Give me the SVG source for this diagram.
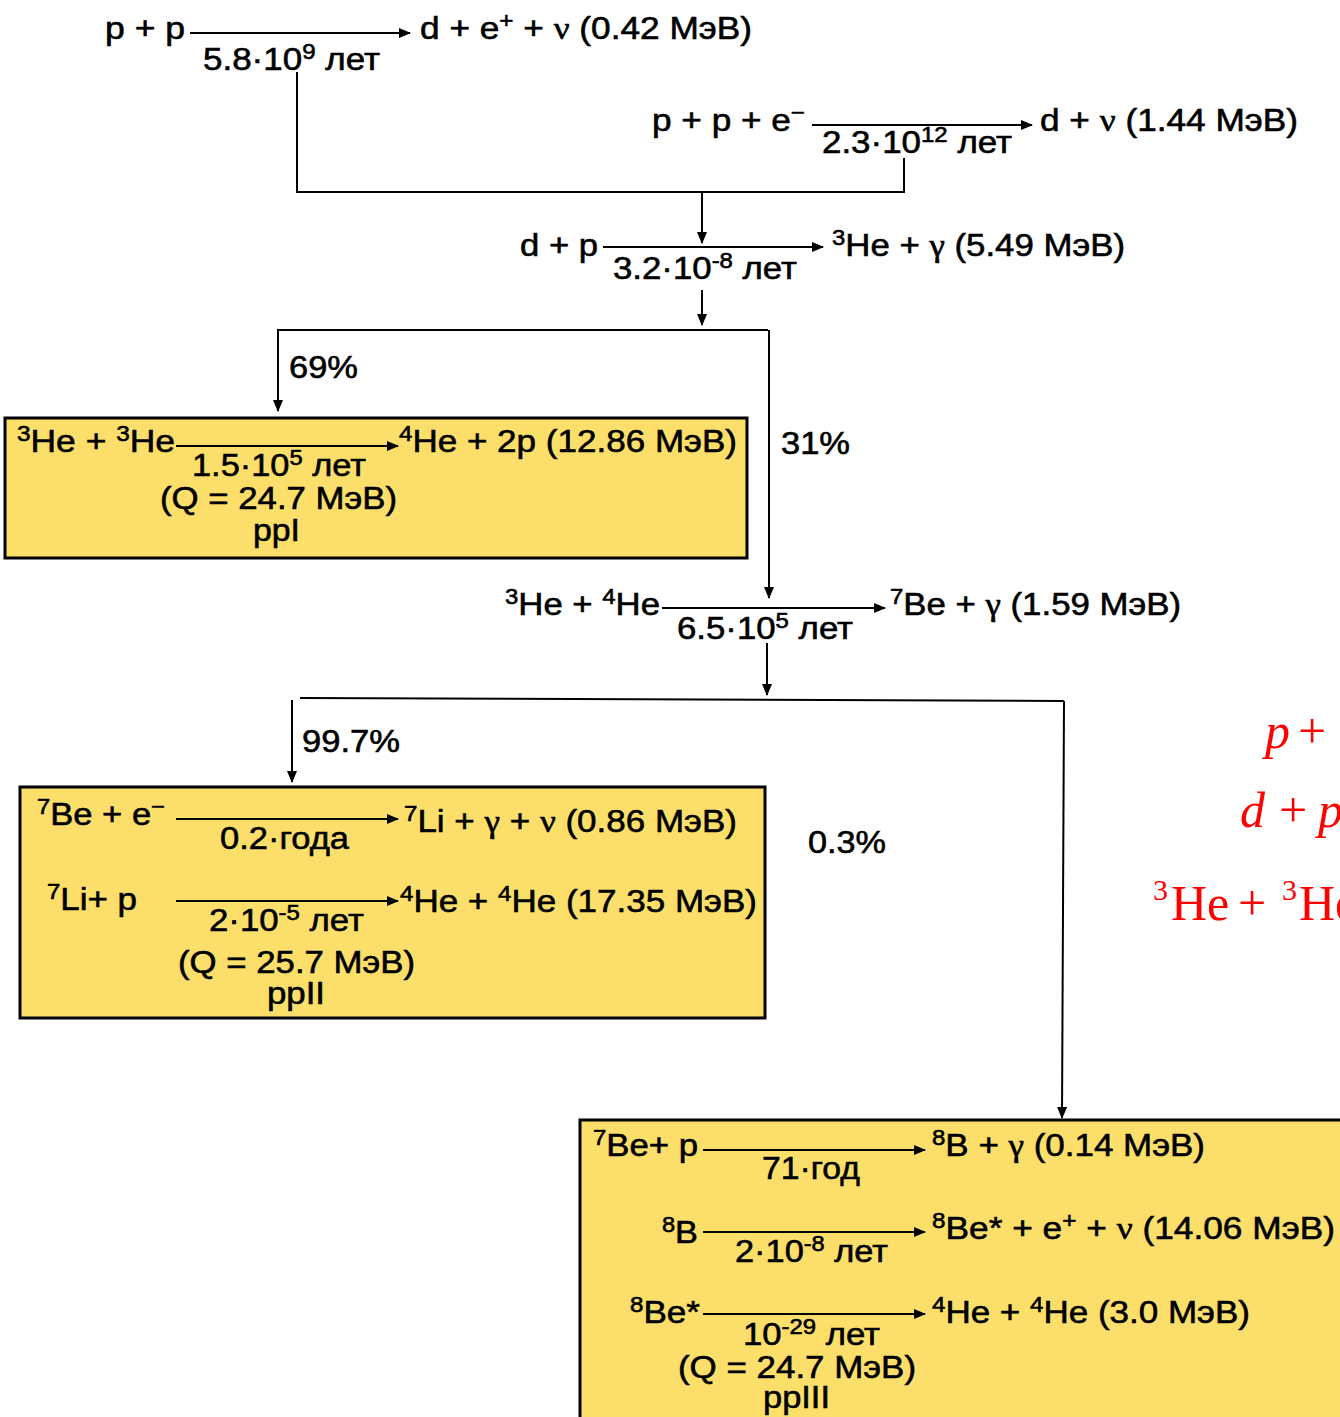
<svg xmlns="http://www.w3.org/2000/svg" width="1340" height="1417" viewBox="0 0 1340 1417">
<defs>
<style>
.t{font-family:"Liberation Sans",Arial,sans-serif;font-size:32px;fill:#000;stroke:#000;stroke-width:0.6}
.s{font-size:22px}
.g{font-family:"Liberation Serif","Times New Roman",serif}
.ln{stroke:#000;stroke-width:2;fill:none}
.ar{stroke:#000;stroke-width:2;fill:none;marker-end:url(#ah)}
.box{fill:#FCDF6B;stroke:#000;stroke-width:3}
.r{font-family:"Liberation Serif","Times New Roman",serif;font-size:50px;fill:#FF0000}
</style>
<marker id="ah" markerWidth="12" markerHeight="10" refX="11" refY="5" orient="auto" markerUnits="userSpaceOnUse"><path d="M0,0 L12,5 L0,10 z" fill="#000"/></marker>
</defs>
<rect width="1340" height="1417" fill="#fff"/>

<g id="box-ppI"><rect class="box" x="5" y="418" width="742" height="140"/></g>
<g id="box-ppII"><rect class="box" x="20" y="787" width="745" height="231"/></g>
<g id="box-ppIII"><rect class="box" x="580" y="1120" width="800" height="330"/></g>

<g id="connectors">
<line class="ar" x1="190" y1="33" x2="410" y2="33"/>
<line class="ar" x1="812" y1="125" x2="1032" y2="125"/>
<line class="ar" x1="603" y1="247" x2="823" y2="247"/>
<polyline class="ln" points="297,72 297,192 904,192 904,158"/>
<line class="ar" x1="702" y1="192" x2="702" y2="243"/>
<line class="ar" x1="702" y1="290" x2="702" y2="325"/>
<polyline class="ln" points="278,330 768,330"/>
<line class="ar" x1="278" y1="329" x2="278" y2="411"/>
<line class="ar" x1="769" y1="330" x2="769" y2="598"/>
<line class="ar" x1="176" y1="446" x2="398" y2="446"/>
<line class="ar" x1="662" y1="608" x2="885" y2="608"/>
<line class="ar" x1="767" y1="643" x2="767" y2="695"/>
<polyline class="ln" points="300,698 1064,701"/>
<line class="ar" x1="292" y1="700" x2="292" y2="782"/>
<line class="ar" x1="1064" y1="701" x2="1062" y2="1118"/>
<line class="ar" x1="176" y1="819" x2="398" y2="819"/>
<line class="ar" x1="176" y1="901" x2="398" y2="901"/>
<line class="ar" x1="703" y1="1150" x2="925" y2="1150"/>
<line class="ar" x1="703" y1="1232" x2="925" y2="1232"/>
<line class="ar" x1="703" y1="1314" x2="925" y2="1314"/>
</g>

<g id="r1">
<text class="t" x="105" y="39" textLength="80" lengthAdjust="spacingAndGlyphs">p + p</text>
<text class="t" x="420" y="39" textLength="332" lengthAdjust="spacingAndGlyphs">d + e<tspan class="s" dy="-11">+</tspan><tspan dy="11"> + </tspan><tspan class="g">ν</tspan> (0.42 MэВ)</text>
<text class="t" x="203" y="70" textLength="177" lengthAdjust="spacingAndGlyphs">5.8·10<tspan class="s" dy="-11">9</tspan><tspan dy="11"> лет</tspan></text>
</g>
<g id="r2">
<text class="t" x="652" y="131" textLength="153" lengthAdjust="spacingAndGlyphs">p + p + e<tspan class="s" dy="-11">−</tspan></text>
<text class="t" x="1040" y="131" textLength="258" lengthAdjust="spacingAndGlyphs">d + <tspan class="g">ν</tspan> (1.44 MэВ)</text>
<text class="t" x="822" y="153" textLength="190" lengthAdjust="spacingAndGlyphs">2.3·10<tspan class="s" dy="-11">12</tspan><tspan dy="11"> лет</tspan></text>
</g>
<g id="r3">
<text class="t" x="520" y="256" textLength="78" lengthAdjust="spacingAndGlyphs">d + p</text>
<text class="t" x="832" y="256" textLength="293" lengthAdjust="spacingAndGlyphs"><tspan class="s" dy="-11">3</tspan><tspan dy="11">He + </tspan><tspan class="g">γ</tspan> (5.49 MэВ)</text>
<text class="t" x="613" y="279" textLength="184" lengthAdjust="spacingAndGlyphs">3.2·10<tspan class="s" dy="-11">-8</tspan><tspan dy="11"> лет</tspan></text>
</g>
<g id="pct">
<text class="t" x="289" y="378" textLength="69" lengthAdjust="spacingAndGlyphs">69%</text>
<text class="t" x="781" y="454" textLength="69" lengthAdjust="spacingAndGlyphs">31%</text>
<text class="t" x="302" y="752" textLength="98" lengthAdjust="spacingAndGlyphs">99.7%</text>
<text class="t" x="808" y="853" textLength="78" lengthAdjust="spacingAndGlyphs">0.3%</text>
</g>
<g id="ppI">
<text class="t" x="17" y="452" textLength="158" lengthAdjust="spacingAndGlyphs"><tspan class="s" dy="-11">3</tspan><tspan dy="11">He + </tspan><tspan class="s" dy="-11">3</tspan><tspan dy="11">He</tspan></text>
<text class="t" x="399" y="452" textLength="338" lengthAdjust="spacingAndGlyphs"><tspan class="s" dy="-11">4</tspan><tspan dy="11">He + 2p (12.86 MэВ)</tspan></text>
<text class="t" x="192" y="476" textLength="174" lengthAdjust="spacingAndGlyphs">1.5·10<tspan class="s" dy="-11">5</tspan><tspan dy="11"> лет</tspan></text>
<text class="t" x="160" y="509" textLength="237" lengthAdjust="spacingAndGlyphs">(Q = 24.7 MэВ)</text>
<text class="t" x="253" y="541" textLength="47" lengthAdjust="spacingAndGlyphs">ppI</text>
</g>
<g id="r4">
<text class="t" x="505" y="615" textLength="155" lengthAdjust="spacingAndGlyphs"><tspan class="s" dy="-11">3</tspan><tspan dy="11">He + </tspan><tspan class="s" dy="-11">4</tspan><tspan dy="11">He</tspan></text>
<text class="t" x="890" y="615" textLength="291" lengthAdjust="spacingAndGlyphs"><tspan class="s" dy="-11">7</tspan><tspan dy="11">Be + </tspan><tspan class="g">γ</tspan> (1.59 MэВ)</text>
<text class="t" x="677" y="639" textLength="176" lengthAdjust="spacingAndGlyphs">6.5·10<tspan class="s" dy="-11">5</tspan><tspan dy="11"> лет</tspan></text>
</g>
<g id="ppII">
<text class="t" x="37" y="825" textLength="128" lengthAdjust="spacingAndGlyphs"><tspan class="s" dy="-11">7</tspan><tspan dy="11">Be + e</tspan><tspan class="s" dy="-11">−</tspan></text>
<text class="t" x="404" y="832" textLength="333" lengthAdjust="spacingAndGlyphs"><tspan class="s" dy="-11">7</tspan><tspan dy="11">Li + </tspan><tspan class="g">γ</tspan> + <tspan class="g">ν</tspan> (0.86 MэВ)</text>
<text class="t" x="220" y="849" textLength="129" lengthAdjust="spacingAndGlyphs">0.2·года</text>
<text class="t" x="47" y="910" textLength="90" lengthAdjust="spacingAndGlyphs"><tspan class="s" dy="-11">7</tspan><tspan dy="11">Li+ p</tspan></text>
<text class="t" x="400" y="912" textLength="357" lengthAdjust="spacingAndGlyphs"><tspan class="s" dy="-11">4</tspan><tspan dy="11">He + </tspan><tspan class="s" dy="-11">4</tspan><tspan dy="11">He (17.35 MэВ)</tspan></text>
<text class="t" x="209" y="931" textLength="155" lengthAdjust="spacingAndGlyphs">2·10<tspan class="s" dy="-11">-5</tspan><tspan dy="11"> лет</tspan></text>
<text class="t" x="178" y="973" textLength="237" lengthAdjust="spacingAndGlyphs">(Q = 25.7 MэВ)</text>
<text class="t" x="267" y="1004" textLength="58" lengthAdjust="spacingAndGlyphs">ppII</text>
</g>
<g id="ppIII">
<text class="t" x="593" y="1156" textLength="105" lengthAdjust="spacingAndGlyphs"><tspan class="s" dy="-11">7</tspan><tspan dy="11">Be+ p</tspan></text>
<text class="t" x="932" y="1156" textLength="273" lengthAdjust="spacingAndGlyphs"><tspan class="s" dy="-11">8</tspan><tspan dy="11">B + </tspan><tspan class="g">γ</tspan> (0.14 MэВ)</text>
<text class="t" x="762" y="1179" textLength="98" lengthAdjust="spacingAndGlyphs">71·год</text>
<text class="t" x="662" y="1243" textLength="36" lengthAdjust="spacingAndGlyphs"><tspan class="s" dy="-11">8</tspan><tspan dy="11">B</tspan></text>
<text class="t" x="932" y="1239" textLength="403" lengthAdjust="spacingAndGlyphs"><tspan class="s" dy="-11">8</tspan><tspan dy="11">Be* + e</tspan><tspan class="s" dy="-11">+</tspan><tspan dy="11"> + </tspan><tspan class="g">ν</tspan> (14.06 MэВ)</text>
<text class="t" x="735" y="1262" textLength="153" lengthAdjust="spacingAndGlyphs">2·10<tspan class="s" dy="-11">-8</tspan><tspan dy="11"> лет</tspan></text>
<text class="t" x="630" y="1323" textLength="70" lengthAdjust="spacingAndGlyphs"><tspan class="s" dy="-11">8</tspan><tspan dy="11">Be*</tspan></text>
<text class="t" x="932" y="1323" textLength="318" lengthAdjust="spacingAndGlyphs"><tspan class="s" dy="-11">4</tspan><tspan dy="11">He + </tspan><tspan class="s" dy="-11">4</tspan><tspan dy="11">He (3.0 MэВ)</tspan></text>
<text class="t" x="743" y="1345" textLength="137" lengthAdjust="spacingAndGlyphs">10<tspan class="s" dy="-11">-29</tspan><tspan dy="11"> лет</tspan></text>
<text class="t" x="678" y="1378" textLength="238" lengthAdjust="spacingAndGlyphs">(Q = 24.7 MэВ)</text>
<text class="t" x="763" y="1408" textLength="67" lengthAdjust="spacingAndGlyphs">ppIII</text>
</g>
<g id="red-formulas">
<text class="r" x="1265" y="748"><tspan font-style="italic">p</tspan><tspan x="1298">+</tspan></text>
<text class="r" x="1240" y="827"><tspan font-style="italic">d</tspan><tspan x="1279">+</tspan><tspan x="1318" font-style="italic">p</tspan></text>
<text class="r" x="1153" y="920"><tspan font-size="30" dy="-20">3</tspan><tspan dy="20" x="1171">He</tspan><tspan x="1238">+</tspan><tspan x="1282" font-size="30" dy="-20">3</tspan><tspan dy="20" x="1299">He</tspan></text>
</g>
</svg>
